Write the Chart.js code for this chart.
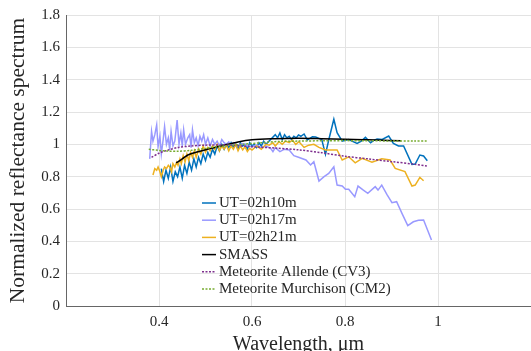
<!DOCTYPE html>
<html>
<head>
<meta charset="utf-8">
<script src="https://cdn.jsdelivr.net/npm/chart.js@4/dist/chart.umd.min.js"></script>
<style>
  html, body { margin: 0; padding: 0; background: #fff; }
  #wrap { width: 531px; height: 351px; }
</style>
</head>
<body>
<div id="wrap"><canvas id="chart1" width="531" height="351"></canvas></div>
<script>
// axis ticks
var xTicks = [0.4, 0.6, 0.8, 1];
var xTickLabels = ["0.4", "0.6", "0.8", "1"];
var yTicks = [0, 0.2, 0.4, 0.6, 0.8, 1, 1.2, 1.4, 1.6, 1.8];
var yTickLabels = ["0", "0.2", "0.4", "0.6", "0.8", "1", "1.2", "1.4", "1.6", "1.8"];

var seriesNames = ["UT=02h10m", "UT=02h17m", "UT=02h21m", "SMASS",
  "Meteorite Allende (CV3)", "Meteorite Murchison (CM2)"];

// UT=02h10m
var wl10 = [0.405, 0.41, 0.415, 0.42, 0.425, 0.43, 0.435, 0.44, 0.445, 0.45,
  0.455, 0.46, 0.465, 0.47, 0.475, 0.48, 0.485, 0.49, 0.495, 0.5,
  0.505, 0.51, 0.515, 0.52, 0.525, 0.53, 0.535, 0.54, 0.545, 0.55,
  0.555, 0.56, 0.565, 0.57, 0.575, 0.58, 0.585, 0.59, 0.595, 0.6,
  0.605, 0.61, 0.615, 0.62, 0.625, 0.63, 0.64, 0.65, 0.655, 0.66,
  0.665, 0.67, 0.675, 0.68, 0.685, 0.69, 0.695, 0.7, 0.705, 0.712,
  0.719, 0.73, 0.737, 0.744, 0.75, 0.758, 0.765, 0.776, 0.783, 0.794,
  0.808, 0.815, 0.826, 0.835, 0.844, 0.855, 0.862, 0.869, 0.88, 0.894,
  0.904, 0.915, 0.926, 0.944, 0.951, 0.961, 0.969, 0.977];
var r10 = [0.85, 0.77, 0.84, 0.79, 0.86, 0.77, 0.83, 0.8, 0.86, 0.79,
  0.87, 0.82, 0.89, 0.84, 0.91, 0.86, 0.92, 0.88, 0.94, 0.9,
  0.95, 0.92, 0.97, 0.94, 0.99, 0.96, 1.0, 0.97, 1.0, 0.98,
  1.01, 0.98, 1.0, 0.97, 1.01, 0.99, 1.0, 0.97, 1.01, 0.99,
  1.0, 0.98, 1.01, 0.99, 1.02, 1.0, 1.03, 1.06, 1.04, 1.07,
  1.03, 1.06, 1.04, 1.05, 1.03, 1.05, 1.04, 1.058, 1.05, 1.064,
  1.027, 1.047, 1.045, 1.037, 1.03, 0.938, 1.027, 1.155, 1.072, 1.02,
  1.03, 1.02, 1.006, 1.02, 1.043, 1.01, 1.025, 1.033, 1.03, 1.051,
  1.006, 0.99, 0.99, 0.876, 0.878, 0.934, 0.928, 0.899];

// UT=02h17m
var wl17 = [0.38, 0.384, 0.387, 0.391, 0.395, 0.398, 0.402, 0.405, 0.409, 0.412,
  0.416, 0.42, 0.423, 0.426, 0.43, 0.434, 0.439, 0.443, 0.447, 0.45,
  0.453, 0.457, 0.462, 0.466, 0.469, 0.472, 0.476, 0.48, 0.484, 0.488,
  0.492, 0.496, 0.5, 0.505, 0.51, 0.515, 0.52, 0.525, 0.53, 0.535,
  0.54, 0.545, 0.55, 0.555, 0.56, 0.57, 0.58, 0.59, 0.6, 0.61,
  0.62, 0.63, 0.64, 0.645, 0.65, 0.66, 0.67, 0.68, 0.69, 0.7,
  0.716, 0.726, 0.733, 0.744, 0.755, 0.765, 0.776, 0.783, 0.794, 0.801,
  0.808, 0.821, 0.828, 0.838, 0.849, 0.865, 0.871, 0.879, 0.89, 0.901,
  0.911, 0.923, 0.935, 0.947, 0.958, 0.969, 0.986];
var r17 = [0.91, 1.08, 1.02, 1.06, 1.12, 0.985, 1.05, 0.94, 1.03, 1.11,
  1.0, 1.04, 0.965, 1.08, 0.99, 1.02, 1.15, 1.0, 1.07, 0.99,
  1.09, 1.0, 1.04, 1.06, 0.98, 1.09, 1.01, 1.04, 0.99, 1.05,
  1.02, 1.06, 1.0, 1.04, 0.99, 1.03, 1.0, 1.02, 0.99, 1.03,
  1.01, 1.0, 1.015, 0.995, 1.01, 0.995, 1.005, 0.99, 0.985, 0.995,
  0.98, 0.99, 0.975, 0.955, 0.98, 0.955, 0.97, 0.965, 0.93, 0.92,
  0.903, 0.872, 0.892, 0.773, 0.8, 0.82, 0.861, 0.748, 0.742, 0.722,
  0.722, 0.676, 0.742, 0.72, 0.697, 0.738, 0.717, 0.748, 0.69, 0.639,
  0.645, 0.57, 0.497, 0.521, 0.53, 0.532, 0.408];

// UT=02h21m
var wl21 = [0.387, 0.391, 0.395, 0.398, 0.402, 0.405, 0.409, 0.412, 0.416, 0.42,
  0.423, 0.427, 0.43, 0.434, 0.438, 0.441, 0.445, 0.448, 0.452, 0.456,
  0.46, 0.464, 0.468, 0.472, 0.476, 0.48, 0.485, 0.49, 0.495, 0.5,
  0.505, 0.51, 0.515, 0.52, 0.525, 0.53, 0.535, 0.54, 0.545, 0.55,
  0.555, 0.56, 0.565, 0.57, 0.575, 0.58, 0.585, 0.59, 0.595, 0.6,
  0.61, 0.62, 0.63, 0.637, 0.645, 0.65, 0.658, 0.665, 0.672, 0.68,
  0.687, 0.694, 0.701, 0.712, 0.722, 0.733, 0.744, 0.758, 0.77, 0.783,
  0.794, 0.808, 0.822, 0.837, 0.858, 0.879, 0.897, 0.908, 0.929, 0.944,
  0.951, 0.961, 0.969];
var r21 = [0.81, 0.85, 0.84, 0.86, 0.83, 0.8, 0.84, 0.86, 0.85, 0.87,
  0.86, 0.83, 0.88, 0.86, 0.89, 0.87, 0.91, 0.88, 0.93, 0.89,
  0.94, 0.9, 0.95, 0.92, 0.96, 0.92, 0.97, 0.94, 0.99, 0.95,
  0.98, 0.96, 0.99, 0.97, 1.0, 0.96, 0.99, 0.97, 0.995, 0.96,
  0.99, 0.97, 1.0, 0.96, 0.99, 0.965, 0.985, 0.955, 0.975, 0.965,
  0.99, 0.97, 1.0, 0.995, 1.01, 0.99, 1.016, 1.0, 1.02, 1.01,
  1.027, 1.0, 1.016, 0.981, 0.995, 1.0, 0.981, 0.965, 0.965, 0.965,
  0.903, 0.923, 0.886, 0.913, 0.889, 0.911, 0.903, 0.851, 0.831, 0.742,
  0.748, 0.796, 0.775];

// SMASS
var wlSmass = [0.437, 0.45, 0.462, 0.484, 0.512, 0.541, 0.57, 0.6, 0.65, 0.7,
  0.75, 0.8, 0.85, 0.92];
var rSmass = [0.885, 0.91, 0.934, 0.954, 0.975, 0.996, 1.015, 1.028, 1.035, 1.037,
  1.035, 1.032, 1.028, 1.022];

// Meteorite Allende (CV3)
var wlAllende = [0.384, 0.4, 0.42, 0.44, 0.47, 0.5, 0.55, 0.6, 0.65, 0.7,
  0.75, 0.8, 0.85, 0.9, 0.95, 0.976];
var rAllende = [0.92, 0.945, 0.965, 0.98, 0.99, 0.995, 0.995, 0.985, 0.977, 0.966,
  0.948, 0.926, 0.91, 0.893, 0.877, 0.866];

// Meteorite Murchison (CM2)
var wlMurchison = [0.378, 0.4, 0.42, 0.44, 0.47, 0.5, 0.54, 0.58, 0.62, 0.66,
  0.7, 0.75, 0.8, 0.85, 0.9, 0.95, 0.976];
var rMurchison = [0.97, 0.962, 0.958, 0.957, 0.963, 0.975, 0.99, 1.0, 1.01, 1.018,
  1.02, 1.022, 1.023, 1.022, 1.021, 1.02, 1.02];

function pts(xs, ys) {
  return xs.map(function (x, i) { return { x: x, y: ys[i] }; });
}

var serif = "'Liberation Serif', 'Times New Roman', serif";

// matlab-style legend sitting inside the axes
var inlineLegend = {
  id: "inlineLegend",
  afterDatasetsDraw: function (chart) {
    var ctx = chart.ctx;
    ctx.save();
    ctx.font = "15px " + serif;
    ctx.textBaseline = "middle";
    chart.data.datasets.forEach(function (ds, i) {
      var y = 203 + i * 17.2;
      ctx.strokeStyle = ds.borderColor;
      ctx.lineWidth = ds.borderWidth;
      ctx.setLineDash(ds.borderDash || []);
      ctx.beginPath();
      ctx.moveTo(202, y);
      ctx.lineTo(216, y);
      ctx.stroke();
      ctx.setLineDash([]);
      ctx.fillStyle = "#262626";
      ctx.fillText(ds.label, 219, y);
    });
    ctx.restore();
  },
};

function drawGraph() {
  var ctx = document.getElementById("chart1").getContext("2d");
  var myChart = new Chart(ctx, {
    type: "line",
    data: {
      datasets: [
        { label: seriesNames[0], data: pts(wl10, r10), borderColor: "#0072BD", borderWidth: 1.5, order: 5 },
        { label: seriesNames[1], data: pts(wl17, r17), borderColor: "#9999FF", borderWidth: 1.5, order: 4 },
        { label: seriesNames[2], data: pts(wl21, r21), borderColor: "#EDB120", borderWidth: 1.5, order: 3 },
        { label: seriesNames[3], data: pts(wlSmass, rSmass), borderColor: "#000000", borderWidth: 1.5, order: 2, cubicInterpolationMode: "monotone" },
        { label: seriesNames[4], data: pts(wlAllende, rAllende), borderColor: "#7E2F8E", borderWidth: 1.5, borderDash: [2, 1.5], order: 1, tension: 0.3 },
        { label: seriesNames[5], data: pts(wlMurchison, rMurchison), borderColor: "#77AC30", borderWidth: 1.5, borderDash: [2, 1.5], order: 0, tension: 0.3 },
      ],
    },
    options: {
      responsive: false,
      animation: false,
      elements: { point: { radius: 0 }, line: { tension: 0 } },
      layout: { padding: { left: 0, right: 0, top: 15, bottom: 0 } },
      plugins: { legend: { display: false }, tooltip: { enabled: false } },
      scales: {
        x: {
          type: "linear",
          min: 0.2,
          max: 1.2,
          afterBuildTicks: function (s) { s.ticks = xTicks.map(function (v) { return { value: v }; }); },
          afterFit: function (s) { s.height = 45; },
          ticks: {
            padding: 7,
            color: "#262626",
            font: { family: serif, size: 15 },
            callback: function (v, i) { return xTickLabels[i]; },
          },
          grid: { color: "#e3e3e3", drawTicks: false },
          border: { color: "#666666" },
          title: {
            display: true,
            text: "Wavelength, μm",
            color: "#262626",
            font: { family: serif, size: 20, lineHeight: 1 },
            padding: { top: 0, bottom: -4 },
          },
        },
        y: {
          min: 0,
          max: 1.8,
          afterBuildTicks: function (s) { s.ticks = yTicks.map(function (v) { return { value: v }; }); },
          afterFit: function (s) { s.width = 66; },
          ticks: {
            padding: 6,
            color: "#262626",
            font: { family: serif, size: 15 },
            callback: function (v, i) { return yTickLabels[i]; },
          },
          grid: { color: "#e3e3e3", drawTicks: false },
          border: { color: "#666666" },
          title: {
            display: true,
            text: "Normalized reflectance spectrum",
            color: "#262626",
            font: { family: serif, size: 21.5, lineHeight: 1 },
            padding: { top: 8, bottom: 0 },
          },
        },
      },
    },
    plugins: [inlineLegend],
  });
}
window.onload = drawGraph;
</script>
</body>
</html>
